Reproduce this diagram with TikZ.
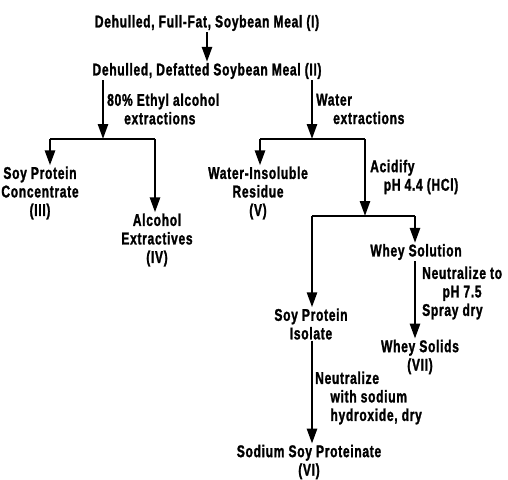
\documentclass[tikz,border=0pt]{standalone}
\usepackage{fontspec}
\setmainfont{Liberation Sans Bold}[FakeStretch=0.71,FakeBold=1.4,LetterSpace=4]
\usepackage{tikz}
\usetikzlibrary{arrows.meta,positioning}

\begin{document}
\begin{tikzpicture}[x=1pt,y=-1pt,
    % node attributes
    every node/.style = {
        font=\fontsize{17}{18.5}\selectfont,
        inner sep=1pt},
    product/.style = {align=center},
    note/.style = {align=left, anchor=west},
    % connectors
    bar/.style = {line width=2.6pt},
    flow/.style = {line width=2.6pt, -{Triangle[length=15pt,width=10pt]}}]
    \useasboundingbox (0,0) rectangle (508,479);
    % materials
    \node[product] (fullfat) at (207,23) {Dehulled, Full-Fat, Soybean Meal (I)};
    \node[product] (defat)   at (207,71) {Dehulled, Defatted Soybean Meal (II)};
    \node[product] (conc)    at (40,193) {Soy Protein\\Concentrate\\(III)};
    \node[product] (alcext)  at (157,240) {Alcohol\\Extractives\\(IV)};
    \node[product] (resid)   at (258,193) {Water-Insoluble\\Residue\\(V)};
    \node[product] (isolate) at (311,324) {Soy Protein\\Isolate};
    \node[product] (whey)    at (416,252) {Whey Solution};
    \node[product] (wsolids) at (420,357) {Whey Solids\\(VII)};
    \node[product] (prot)    at (309,462) {Sodium Soy Proteinate\\(VI)};
    % junctions
    \coordinate (ja) at (103,139);
    \coordinate (jal) at (50,139);
    \coordinate (jar) at (155,139);
    \coordinate (jw) at (312,139);
    \coordinate (jwl) at (260,139);
    \coordinate (jwr) at (365,139);
    \coordinate (jac) at (365,216);
    \coordinate (jacl) at (312,216);
    \coordinate (jacr) at (415,216);
    % process steps
    \node[note] (alcstep) at (106,109) {80\% Ethyl alcohol\\\hspace{1em}extractions};
    \node[note] (watstep) at (315,109) {Water\\\hspace{1em}extractions};
    \node[note] (acstep)  at (369,177) {Acidify\\\hspace{0.8em}pH 4.4 (HCl)};
    \node[note] (neutstep) at (421,293) {Neutralize to\\\hspace{1.2em}pH 7.5\\Spray dry};
    \node[note] (nastep)  at (314,398) {Neutralize\\\hspace{0.9em}with sodium\\\hspace{0.9em}hydroxide, dry};
    % connectors
    \draw[flow] (fullfat) -- (defat);
    \draw[flow] (defat.south -| ja) -- (ja);
    \draw[bar] (jal) -- (jar);
    \draw[flow] (jal) -- (jal |- conc.north);
    \draw[flow] (jar) -- (jar |- alcext.north);
    \draw[flow] (defat.south -| jw) -- (jw);
    \draw[bar] (jwl) -- (jwr);
    \draw[flow] (jwl) -- (jwl |- resid.north);
    \draw[flow] (jwr) -- (jac);
    \draw[bar] (jacl) -- (jacr);
    \draw[flow] (jacl) -- (jacl |- isolate.north);
    \draw[flow] (jacr) -- (jacr |- whey.north);
    \draw[flow] (whey.south -| jacr) -- (jacr |- wsolids.north);
    \draw[flow] (isolate.south -| jacl) -- (jacl |- prot.north);
\end{tikzpicture}
\end{document}
